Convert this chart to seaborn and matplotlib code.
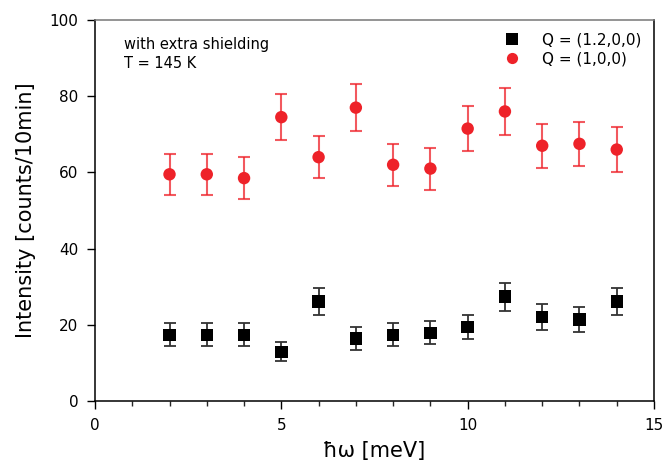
import matplotlib
matplotlib.use("Agg")
import matplotlib.pyplot as plt
import seaborn as sns
import pandas as pd
from matplotlib.ticker import MultipleLocator

energy = [2, 3, 4, 5, 6, 7, 8, 9, 10, 11, 12, 13, 14]
q12_int = [17.4, 17.4, 17.4, 12.9, 26.1, 16.4, 17.4, 17.9, 19.5, 27.4, 22.0, 21.4, 26.1]
q12_err = [3.0, 3.0, 3.0, 2.5, 3.6, 2.9, 3.0, 3.0, 3.2, 3.7, 3.4, 3.3, 3.6]
q1_int = [59.5, 59.5, 58.5, 74.5, 64.0, 77.0, 62.0, 61.0, 71.5, 76.0, 67.0, 67.5, 66.0]
q1_err = [5.4, 5.4, 5.5, 6.1, 5.6, 6.1, 5.5, 5.5, 6.0, 6.2, 5.8, 5.8, 5.8]
labels = ["Q = (1.2,0,0)", "Q = (1,0,0)"]

sns.set_theme(style="ticks")
plt.rcParams['font.family'] = ['DejaVu Sans']
plt.rcParams['text.color'] = 'black'
plt.rcParams['axes.labelcolor'] = 'black'

df = pd.DataFrame({
    "E": energy * 2,
    "I": q12_int + q1_int,
    "err": q12_err + q1_err,
    "Q": [labels[0]] * len(energy) + [labels[1]] * len(energy),
})

red = "#ee2229"
fig = plt.figure(figsize=(6.66, 4.65), dpi=100)
ax = fig.add_axes([0.1426, 0.1376, 0.8394, 0.8194])

ax.errorbar(energy, q12_int, yerr=q12_err, fmt="none", ecolor="#333333",
            elinewidth=1.3, capsize=4, capthick=1.3, zorder=2)
ax.errorbar(energy, q1_int, yerr=q1_err, fmt="none", ecolor=red, alpha=0.75,
            elinewidth=1.5, capsize=4, capthick=1.5, zorder=2)

sns.scatterplot(data=df, x="E", y="I", hue="Q", style="Q",
                palette={labels[0]: "black", labels[1]: red},
                markers={labels[0]: "s", labels[1]: "o"},
                s=80, linewidth=0, ax=ax, zorder=3)

ax.set_xlim(0, 15)
ax.set_ylim(0, 100)
ax.xaxis.set_major_locator(MultipleLocator(5))
ax.xaxis.set_minor_locator(MultipleLocator(1))
ax.yaxis.set_major_locator(MultipleLocator(20))
ax.tick_params(axis="both", which="major", direction="out", length=6, width=1,
               labelsize=11, colors="black", pad=6)
ax.tick_params(axis="x", which="minor", direction="out", length=3.5, width=1)

for side in ["left", "bottom", "right"]:
    ax.spines[side].set_color("black")
    ax.spines[side].set_linewidth(1.1)
ax.spines["top"].set_color("#777777")
ax.spines["top"].set_linewidth(1.1)

ax.set_xlabel("ħω [meV]", fontsize=15, labelpad=6)
ax.set_ylabel("Intensity [counts/10min]", fontsize=15, labelpad=10)

ax.text(0.052, 0.955, "with extra shielding\nT = 145 K", transform=ax.transAxes,
        fontsize=10.5, va="top", ha="left", linespacing=1.35, color="black")

leg = ax.legend(loc="upper right", frameon=False, fontsize=11, handletextpad=1.0,
                borderaxespad=0.4, labelspacing=0.25, markerscale=0.9)
for t in leg.get_texts():
    t.set_color("black")
leg.set_title(None)

fig.savefig("out.png", dpi=100)
